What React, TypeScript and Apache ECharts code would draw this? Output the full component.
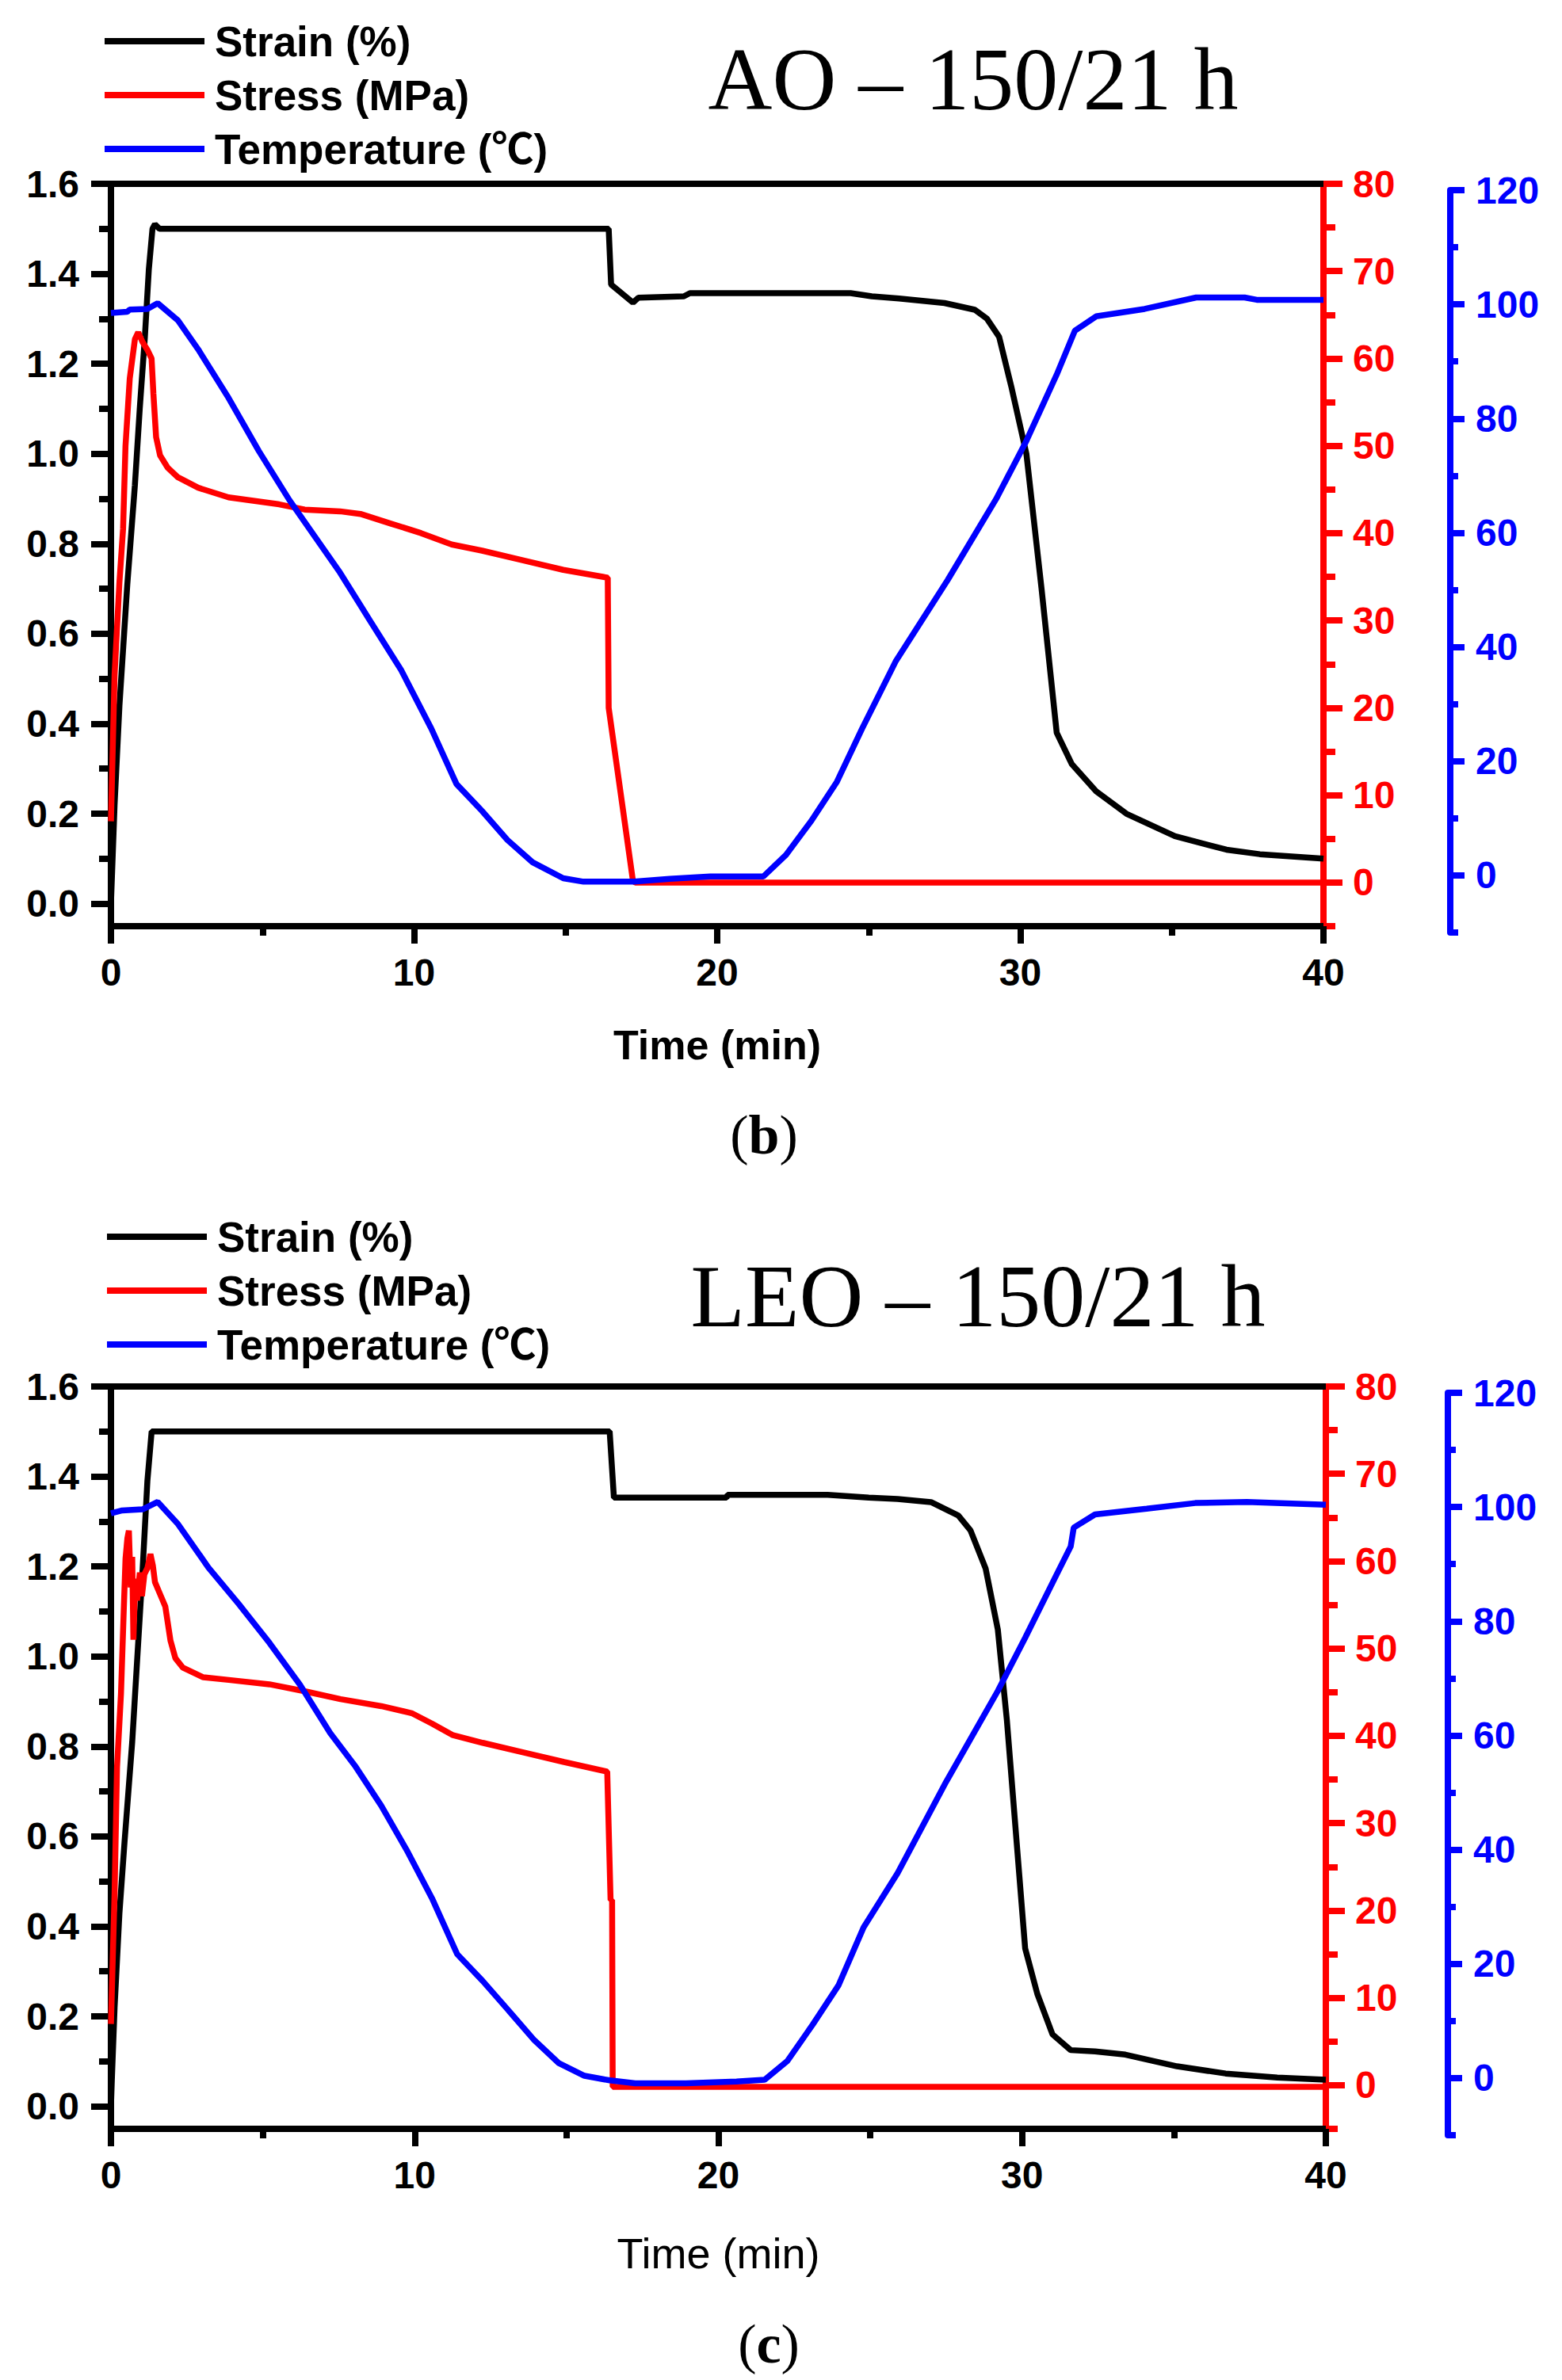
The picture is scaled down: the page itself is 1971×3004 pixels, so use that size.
import React, { useEffect, useRef } from 'react'
import * as echarts from 'echarts'

// tick values
const strainMajor = [0, 0.2, 0.4, 0.6, 0.8, 1.0, 1.2, 1.4, 1.6]
const strainMinor = [0.1, 0.3, 0.5, 0.7, 0.9, 1.1, 1.3, 1.5]
const stressMajor = [0, 10, 20, 30, 40, 50, 60, 70, 80]
const stressMinor = [-5, 5, 15, 25, 35, 45, 55, 65, 75]
const tempMajor = [0, 20, 40, 60, 80, 100, 120]
const tempMinor = [-10, 10, 30, 50, 70, 90, 110]
const legendNames = ['Strain (%)', 'Stress (MPa)', 'Temperature (℃)']

// (b) AO - 150/21 h  : [time (min), value]
const aoStrain = [
  [0, 0.0], [0.12, 0.22], [0.28, 0.44], [0.54, 0.71], [0.79, 0.93], [0.95, 1.1], [1.12, 1.26],
  [1.25, 1.41], [1.37, 1.5], [1.45, 1.51], [1.6, 1.5], [16.42, 1.5], [16.5, 1.376], [17.22, 1.336],
  [17.4, 1.347], [18.9, 1.35], [19.1, 1.357], [24.4, 1.357], [25.1, 1.35], [26, 1.345], [27.5, 1.335],
  [28.5, 1.32], [28.9, 1.3], [29.3, 1.26], [29.7, 1.15], [30.2, 1.0], [30.7, 0.7], [31.2, 0.38],
  [31.7, 0.31], [32.5, 0.25], [33.5, 0.2], [35.1, 0.15], [36.8, 0.12], [37.9, 0.11], [40, 0.1]
]
const aoStress = [
  [0, 7], [0.12, 23.8], [0.28, 34.4], [0.4, 40.5], [0.48, 50], [0.62, 57.7], [0.79, 62.2], [0.9, 63],
  [1.04, 61.9], [1.2, 61], [1.34, 60], [1.4, 56], [1.49, 51], [1.62, 48.9], [1.87, 47.5], [2.21, 46.4],
  [2.88, 45.2], [3.88, 44.1], [5.55, 43.3], [6.39, 42.7], [7.56, 42.5], [8.23, 42.2], [9.23, 41.1],
  [10.23, 40], [11.24, 38.7], [12.24, 38], [13.58, 36.9], [14.92, 35.8], [16.39, 34.9], [16.42, 20],
  [17.22, 0.2], [17.3, 0], [40, 0]
]
const aoTemp = [
  [0, 98.5], [0.54, 98.7], [0.62, 99.1], [1.2, 99.2], [1.54, 100.2], [2.21, 97.2], [2.88, 92.1],
  [3.88, 83.6], [4.88, 74.3], [5.89, 65.7], [6.56, 60.6], [7.56, 53], [8.56, 44.5], [9.57, 36],
  [10.57, 25.7], [11.4, 16], [12.24, 11.3], [13.08, 6.2], [13.91, 2.3], [14.92, -0.5], [15.59, -1.1],
  [17.26, -1.1], [18.43, -0.6], [19.77, -0.2], [21.52, -0.2], [22.27, 3.6], [23.11, 9.6], [23.95, 16.4],
  [24.78, 25.7], [25.9, 37.6], [27.6, 51.7], [29.2, 65.9], [30.2, 76.1], [31.2, 87.7], [31.8, 95.4],
  [32.5, 97.9], [34.1, 99.2], [35.8, 101.2], [37.4, 101.2], [37.8, 100.8], [40, 100.8]
]

// (c) LEO - 150/21 h
const leoStrain = [
  [0, 0.0], [0.03, 0.06], [0.12, 0.22], [0.28, 0.43], [0.45, 0.59], [0.7, 0.81], [0.87, 1.0],
  [1.04, 1.19], [1.2, 1.39], [1.34, 1.5], [16.42, 1.5], [16.56, 1.353], [20.27, 1.353], [20.3, 1.359],
  [23.6, 1.359], [24.95, 1.353], [25.9, 1.35], [27, 1.343], [27.9, 1.313], [28.3, 1.28], [28.8, 1.195],
  [29.2, 1.06], [29.5, 0.857], [29.8, 0.604], [30.1, 0.351], [30.5, 0.25], [31.0, 0.16], [31.6, 0.125],
  [32.4, 0.122], [33.4, 0.115], [35.1, 0.089], [36.7, 0.073], [38.4, 0.064], [40, 0.059]
]
const leoStress = [
  [0, 7], [0.12, 22], [0.2, 36.4], [0.33, 44.8], [0.42, 54.2], [0.48, 60.3], [0.54, 62.6], [0.59, 63.5],
  [0.65, 57], [0.7, 60.5], [0.74, 51], [0.8, 58], [0.86, 55.5], [0.95, 58.7], [1.02, 56], [1.1, 58.5],
  [1.2, 59.2], [1.3, 60.8], [1.38, 59.5], [1.45, 57.6], [1.62, 56.2], [1.79, 54.8], [1.96, 50.9],
  [2.12, 48.9], [2.37, 47.8], [3.04, 46.7], [3.88, 46.4], [5.22, 45.9], [6.39, 45.1], [7.56, 44.2],
  [8.9, 43.4], [9.9, 42.6], [10.57, 41.4], [11.24, 40.1], [12.24, 39.2], [13.58, 38.1], [14.92, 37],
  [16.34, 35.9], [16.45, 21.2], [16.5, 21.2], [16.52, -0.2], [40, -0.2]
]
const leoTemp = [
  [0, 98.9], [0.37, 99.4], [1.04, 99.6], [1.54, 100.9], [2.21, 97], [3.21, 89.4], [4.21, 83],
  [5.22, 76.2], [6.22, 68.9], [7.22, 60.4], [8.06, 54.5], [8.9, 47.7], [9.73, 40], [10.57, 31.5],
  [11.4, 21.7], [12.24, 17], [13.08, 11.9], [13.91, 6.8], [14.75, 2.6], [15.59, 0.4], [16.42, -0.4],
  [17.26, -0.9], [18.93, -0.9], [20.6, -0.6], [21.52, -0.3], [22.27, 3], [23.11, 9.4], [23.95, 16.2],
  [24.78, 26.4], [25.9, 35.9], [27.5, 51.9], [29.2, 67.8], [30.1, 77.1], [31.1, 87.8], [31.6, 93.1],
  [31.7, 96.4], [32.4, 98.7], [34.1, 99.7], [35.7, 100.7], [37.4, 100.9], [40, 100.4]
]

const SANS = "'Liberation Sans', Arial, 'Noto Sans CJK SC', sans-serif"
const SERIF = "'Liberation Serif', 'Times New Roman', serif"
const BLACK = '#000000'
const RED = '#ff0000'
const BLUE = '#0000ff'
const LW = 8

const tickAxis = (gridIndex: number, position: string, min: number, max: number, color: string,
  values: number[], length: number, offset = 0) => ({
  type: 'value', gridIndex, position, offset, min, max,
  axisLine: { show: false, onZero: false },
  axisTick: { show: true, customValues: values, length, lineStyle: { color, width: LW } },
  axisLabel: { show: false },
  splitLine: { show: false }
})

const mainAxis = (gridIndex: number, position: string, min: number, max: number, color: string,
  values: number[], length: number, margin: number, digits: number, offset = 0) => ({
  type: 'value', gridIndex, position, offset, min, max,
  axisLine: { show: true, onZero: false, lineStyle: { color, width: LW } },
  axisTick: { show: true, customValues: values, length, lineStyle: { color, width: LW } },
  axisLabel: {
    customValues: values, margin, color, fontSize: 48, fontWeight: 'bold', fontFamily: SANS,
    formatter: (v: number) => v.toFixed(digits)
  },
  splitLine: { show: false }
})

interface PanelSpec {
  top: number
  width: number
  blueTop: number
  blueOffset: number
  nameGap: number
  nameWeight: string
  nameSize: number
  strain: number[][]
  stress: number[][]
  temp: number[][]
}

const buildPanel = (i: number, p: PanelSpec) => {
  const g = i * 2
  const xb = i * 3
  const yb = i * 6
  const grid = [
    { left: 140, top: p.top, width: p.width, height: 937 },
    { left: 140, top: p.blueTop, width: p.width, height: 937 }
  ]
  const xAxis = [
    {
      type: 'value', gridIndex: g, position: 'bottom', min: 0, max: 40, interval: 10,
      axisLine: { onZero: false, lineStyle: { color: BLACK, width: LW } },
      axisTick: { length: 22, lineStyle: { color: BLACK, width: LW } },
      minorTick: { show: true, splitNumber: 2, length: 12, lineStyle: { color: BLACK, width: LW } },
      axisLabel: { margin: 34, color: BLACK, fontSize: 48, fontWeight: 'bold', fontFamily: SANS },
      splitLine: { show: false },
      name: 'Time (min)', nameLocation: 'middle', nameGap: p.nameGap,
      nameTextStyle: {
        color: BLACK, fontSize: p.nameSize, fontWeight: p.nameWeight, fontFamily: SANS,
        verticalAlign: 'middle'
      }
    },
    {
      type: 'value', gridIndex: g, position: 'top', min: 0, max: 40,
      axisLine: { onZero: false, lineStyle: { color: BLACK, width: LW } },
      axisTick: { show: false }, axisLabel: { show: false }, splitLine: { show: false }
    },
    { type: 'value', gridIndex: g + 1, min: 0, max: 40, show: false }
  ]
  const yAxis = [
    mainAxis(g, 'left', -0.05, 1.6, BLACK, strainMajor, 25, 40, 1),
    tickAxis(g, 'left', -0.05, 1.6, BLACK, strainMinor, 15),
    mainAxis(g, 'right', -5, 80, RED, stressMajor, 24, 37, 0),
    tickAxis(g, 'right', -5, 80, RED, stressMinor, 15),
    mainAxis(g + 1, 'right', -10, 120, BLUE, tempMajor, 18, 32, 0, p.blueOffset),
    tickAxis(g + 1, 'right', -10, 120, BLUE, tempMinor, 10, p.blueOffset)
  ]
  const line = (name: string, color: string, data: number[][], xi: number, yi: number) => ({
    name, type: 'line', data, xAxisIndex: xi, yAxisIndex: yi,
    showSymbol: false, symbol: 'none', smooth: false,
    lineStyle: { color, width: 7.5 }, itemStyle: { color }
  })
  const series = [
    line(legendNames[0], BLACK, p.strain, xb, yb),
    line(legendNames[1], RED, p.stress, xb, yb + 2),
    line(legendNames[2], BLUE, p.temp, xb + 2, yb + 4)
  ]
  return { grid, xAxis, yAxis, series }
}

const legendAt = (left: number, top: number) => ({
  left, top, orient: 'vertical', data: legendNames, icon: 'rect',
  itemWidth: 126, itemHeight: 8, itemGap: 12, padding: 0, selectedMode: false,
  textStyle: {
    color: BLACK, fontSize: 53, fontWeight: 'bold', fontFamily: SANS, lineHeight: 56,
    padding: [0, 0, 0, 8]
  }
})

const caption = (x: number, y: number, letter: string) => ({
  type: 'text', x, y,
  style: {
    text: '{p|(}{b|' + letter + '}{p|)}',
    rich: {
      p: { fontFamily: SERIF, fontSize: 70, fill: BLACK },
      b: { fontFamily: SERIF, fontSize: 70, fontWeight: 'bold', fill: BLACK }
    },
    textAlign: 'center', textVerticalAlign: 'middle', align: 'center', verticalAlign: 'middle'
  }
})

const heading = (x: number, y: number, text: string) => ({
  type: 'text', x, y,
  style: {
    text, fontFamily: SERIF, fontSize: 112, fill: BLACK,
    textAlign: 'center', textVerticalAlign: 'middle', align: 'center', verticalAlign: 'middle'
  }
})

const App: React.FC = () => {
  const chartRef = useRef<HTMLDivElement>(null)

  useEffect(() => {
    if (!chartRef.current) return
    const chart = echarts.init(chartRef.current, null, { renderer: 'svg' })

    const top = buildPanel(0, {
      top: 232, width: 1530, blueTop: 240, blueOffset: 160,
      nameGap: 150, nameWeight: 'bold', nameSize: 52,
      strain: aoStrain, stress: aoStress, temp: aoTemp
    })
    const bottom = buildPanel(1, {
      top: 1750, width: 1533, blueTop: 1758, blueOffset: 154,
      nameGap: 157, nameWeight: 'normal', nameSize: 54,
      strain: leoStrain, stress: leoStress, temp: leoTemp
    })

    chart.setOption({
      animation: false,
      backgroundColor: '#ffffff',
      grid: [...top.grid, ...bottom.grid],
      xAxis: [...top.xAxis, ...bottom.xAxis],
      yAxis: [...top.yAxis, ...bottom.yAxis],
      series: [...top.series, ...bottom.series],
      legend: [legendAt(132, 24), legendAt(135, 1533)],
      graphic: [
        heading(1228, 100, 'AO – 150/21 h'),
        heading(1234, 1636, 'LEO – 150/21 h'),
        caption(964, 1432, 'b'),
        caption(970, 2958, 'c')
      ]
    })

    return () => {
      chart.dispose()
    }
  }, [])

  return (
    <div
      ref={chartRef}
      style={{ position: 'absolute', left: 0, top: 0, width: '1971px', height: '3004px', background: '#fff' }}
    />
  )
}

export default App
